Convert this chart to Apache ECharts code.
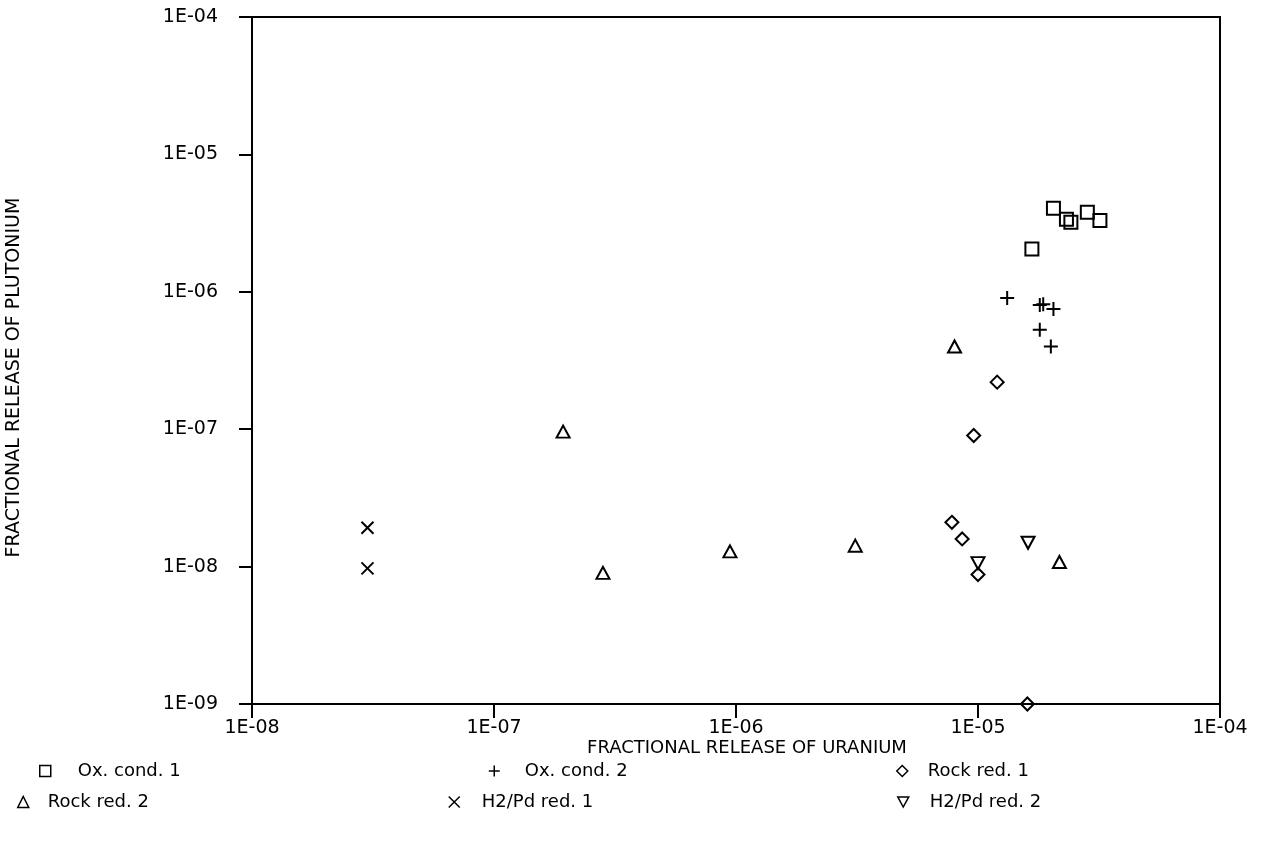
<!DOCTYPE html>
<html>
<head>
<meta charset="utf-8">
<title>Fractional release of Pu vs U</title>
<script src="https://cdn.jsdelivr.net/npm/echarts@6/dist/echarts.min.js"></script>
<style>
  html, body { margin: 0; padding: 0; background: #fff; }
  #chart { width: 1264px; height: 843px; }
</style>
</head>
<body>
<div id="chart"></div>
<script>
// [uranium fraction, plutonium fraction]
const oxCond1 = [[2.05e-5, 4.06e-6], [2.32e-5, 3.38e-6], [2.42e-5, 3.21e-6], [2.83e-5, 3.8e-6], [3.19e-5, 3.3e-6], [1.67e-5, 2.05e-6]]
const oxCond2 = [[1.32e-5, 9.0e-7], [1.8e-5, 8.0e-7], [1.86e-5, 8.1e-7], [2.05e-5, 7.5e-7], [1.8e-5, 5.3e-7], [2.0e-5, 4.0e-7]]
const rockRed1 = [[1.2e-5, 2.2e-7], [9.6e-6, 9.0e-8], [7.8e-6, 2.1e-8], [8.6e-6, 1.59e-8], [1.0e-5, 8.75e-9], [1.6e-5, 1.0e-9]]
const rockRed2 = [[1.93e-7, 9.6e-8], [2.82e-7, 9.0e-9], [9.44e-7, 1.29e-8], [3.11e-6, 1.42e-8], [8.0e-6, 4.0e-7], [2.17e-5, 1.08e-8]]
const h2pdRed1 = [[3.0e-8, 1.92e-8], [3.0e-8, 9.7e-9]]
const h2pdRed2 = [[1.0e-5, 1.06e-8], [1.61e-5, 1.49e-8]]

const seriesNames = ['Ox. cond. 1', 'Ox. cond. 2', 'Rock red. 1', 'Rock red. 2', 'H2/Pd red. 1', 'H2/Pd red. 2']
const xTickLabels = ['1E-08', '1E-07', '1E-06', '1E-05', '1E-04']
const yTickLabels = ['1E-09', '1E-08', '1E-07', '1E-06', '1E-05', '1E-04']

const font = 'DejaVu Sans'
const plusPath = 'path://M0,5L10,5M5,0L5,10'
const crossPath = 'path://M0,0L10,10M10,0L0,10'
const downTriPath = 'path://M0,0L12,0L6,11Z'

const symbols = [
  { symbol: 'rect', size: 13, icon: 'rect' },
  { symbol: plusPath, size: 14, icon: plusPath },
  { symbol: 'diamond', size: 13, icon: 'diamond' },
  { symbol: 'triangle', size: [13, 12], icon: 'triangle' },
  { symbol: crossPath, size: 12, icon: crossPath },
  { symbol: downTriPath, size: [13, 12], icon: downTriPath }
]
const seriesData = [oxCond1, oxCond2, rockRed1, rockRed2, h2pdRed1, h2pdRed2]

// legend slots: [left, top, text padding]
const legendSlots = [
  [39, 762, 22], [488, 762, 20], [896, 762, 15],
  [17, 793, 14], [448, 793, 17], [897, 793, 16]
]

const chart = echarts.init(document.getElementById('chart'))

const option = {
  animation: false,
  backgroundColor: '#fff',
  textStyle: { fontFamily: font, color: '#000' },
  grid: {
    left: 252,
    right: 44,
    top: 17,
    bottom: 139,
    show: true,
    borderColor: '#000',
    borderWidth: 2,
    outerBoundsMode: 'none'
  },
  legend: seriesNames.map((name, i) => ({
    left: legendSlots[i][0],
    top: legendSlots[i][1],
    padding: 0,
    itemWidth: 11,
    itemHeight: 11,
    selectedMode: false,
    data: [{
      name: name,
      icon: symbols[i].icon,
      itemStyle: { color: 'rgba(0,0,0,0)', borderColor: '#000', borderWidth: 1.5 }
    }],
    textStyle: {
      fontFamily: font,
      fontSize: 18,
      color: '#000',
      padding: [0, 0, 0, legendSlots[i][2]]
    }
  })),
  xAxis: {
    type: 'log',
    logBase: 10,
    min: 1e-8,
    max: 1e-4,
    name: 'FRACTIONAL RELEASE OF URANIUM',
    nameLocation: 'middle',
    nameGap: 35,
    nameMoveOverlap: false,
    nameTextStyle: { fontFamily: font, fontSize: 18, color: '#000', padding: [0, 0, 0, 22] },
    axisLine: { lineStyle: { color: '#000', width: 2 } },
    axisTick: { length: 14, lineStyle: { color: '#000', width: 2 } },
    axisLabel: {
      margin: 15,
      fontFamily: font,
      fontSize: 19,
      color: '#000',
      formatter: (v, i) => xTickLabels[i]
    },
    splitLine: { show: false }
  },
  yAxis: {
    type: 'log',
    logBase: 10,
    min: 1e-9,
    max: 1e-4,
    name: 'FRACTIONAL RELEASE OF PLUTONIUM',
    nameLocation: 'middle',
    nameGap: 228,
    nameMoveOverlap: false,
    nameTextStyle: { fontFamily: font, fontSize: 19, color: '#000', padding: [0, 34, 0, 0] },
    axisLine: { lineStyle: { color: '#000', width: 2 } },
    axisTick: { length: 13, lineStyle: { color: '#000', width: 2 } },
    axisLabel: {
      margin: 34,
      fontFamily: font,
      fontSize: 19,
      color: '#000',
      formatter: (v, i) => yTickLabels[i]
    },
    splitLine: { show: false }
  },
  series: seriesNames.map((name, i) => ({
    name: name,
    type: 'scatter',
    symbol: symbols[i].symbol,
    symbolSize: symbols[i].size,
    itemStyle: { color: 'rgba(0,0,0,0)', borderColor: '#000', borderWidth: 2, opacity: 1 },
    data: seriesData[i]
  }))
}

chart.setOption(option)
</script>
</body>
</html>
